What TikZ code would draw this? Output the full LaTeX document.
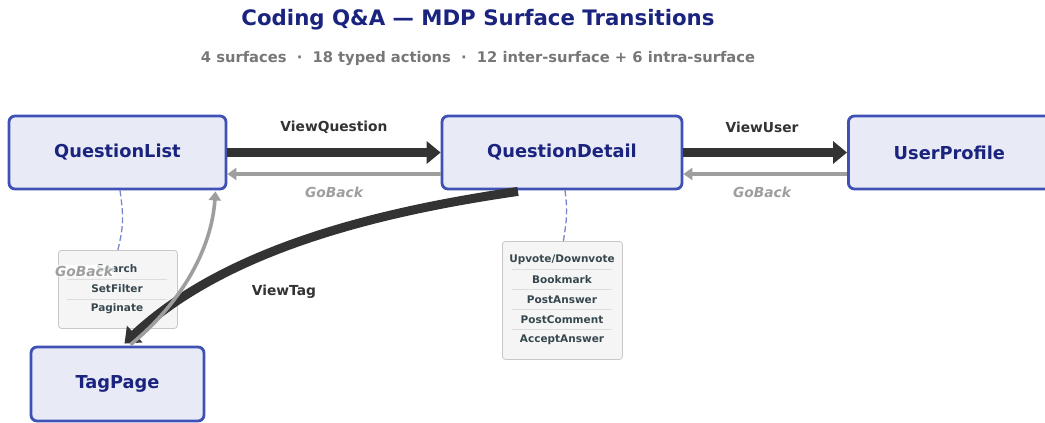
\documentclass[tikz,border=0pt]{standalone}
\usepackage{fontspec}
\setmainfont{DejaVu Sans}
\usetikzlibrary{arrows.meta}
\definecolor{navy}{HTML}{1A237E}
\definecolor{boxfill}{HTML}{E8EAF6}
\definecolor{boxdraw}{HTML}{3F51B5}
\definecolor{dark}{HTML}{333333}
\definecolor{greyarrow}{HTML}{9E9E9E}
\definecolor{subgrey}{HTML}{777777}
\definecolor{notefill}{HTML}{F5F5F5}
\definecolor{notedraw}{HTML}{C8C8C8}
\definecolor{notetext}{HTML}{37474F}
\definecolor{dashcol}{HTML}{7986CB}
\definecolor{seprule}{HTML}{DDDDDD}
\tikzset{
  surface/.style={draw=boxdraw, line width=2.8pt, fill=boxfill, rounded corners=6pt,
    text=navy, font=\bfseries\fontsize{17.8}{21}\selectfont, inner sep=0pt},
  fwd/.style={draw=dark, line width=9pt, -{Triangle[length=14pt,width=22pt]}},
  back/.style={draw=greyarrow, line width=3.6pt, -{Triangle[length=9pt,width=12pt]}},
  fwdlabel/.style={text=dark, font=\bfseries\fontsize{13.8}{16}\selectfont},
  backlabel/.style={text=greyarrow, font=\bfseries\itshape\fontsize{13.8}{16}\selectfont},
  notebox/.style={draw=notedraw, line width=0.8pt, fill=notefill, rounded corners=3pt, inner sep=0pt},
  noteitem/.style={text=notetext, font=\bfseries\fontsize{10.5}{12}\selectfont, inner sep=0pt},
  sepline/.style={draw=seprule, line width=0.7pt},
  notelink/.style={draw=dashcol, line width=1.3pt, dash pattern=on 6pt off 3pt},
}
\begin{document}
\begin{tikzpicture}[x=1pt,y=-1pt]
\useasboundingbox (0,0) rectangle (1045,423);
\fill[white] (0,0) rectangle (1045,423);
% title
\node[text=navy, font=\bfseries\fontsize{21.3}{25}\selectfont] (title) at (478,20) {Coding Q\&A — MDP Surface Transitions};
\node[text=subgrey, font=\bfseries\fontsize{14.7}{17}\selectfont] (sub) at (478,59) {4 surfaces \ ·\ \ 18 typed actions \ ·\ \ 12 inter-surface + 6 intra-surface};
% surfaces
\node[surface, minimum width=217pt, minimum height=73pt] (ql) at (117.5,152.5) {QuestionList};
\node[surface, minimum width=240pt, minimum height=73pt] (qd) at (562,152.5) {QuestionDetail};
\node[surface, minimum width=210pt, minimum height=73pt, anchor=west] (up) at (847,152.5) {\hspace*{-4pt}UserProfile\hspace*{4pt}};
\node[surface, minimum width=173pt, minimum height=74pt] (tp) at (117.5,384) {TagPage};
% notes
\node[notebox, minimum width=119pt, minimum height=78pt, anchor=north west] (n1) at (58,250) {};
\node[noteitem] (n1a) at (117,269) {Search};
\node[noteitem] (n1b) at (117,289) {SetFilter};
\node[noteitem] (n1c) at (117,309) {Paginate};
\draw[sepline] ([xshift=-50pt,yshift=-10pt]n1a.center) -- ([xshift=50pt,yshift=-10pt]n1a.center);
\draw[sepline] ([xshift=-50pt,yshift=-10pt]n1b.center) -- ([xshift=50pt,yshift=-10pt]n1b.center);
\node[notebox, minimum width=120pt, minimum height=118pt, anchor=north west] (n2) at (502,241) {};
\node[noteitem] (n2a) at (562,259.5) {Upvote/Downvote};
\node[noteitem] (n2b) at (562,279.5) {Bookmark};
\node[noteitem] (n2c) at (562,299.5) {PostAnswer};
\node[noteitem] (n2d) at (562,319.5) {PostComment};
\node[noteitem] (n2e) at (562,339.5) {AcceptAnswer};
\foreach \n in {n2a,n2b,n2c,n2d}
  \draw[sepline] ([xshift=-50pt,yshift=-10pt]\n.center) -- ([xshift=50pt,yshift=-10pt]\n.center);
\draw[notelink] ([xshift=2.5pt]ql.south) .. controls ([xshift=6pt,yshift=-25pt]ql.south) and ([xshift=6pt,yshift=25pt]n1.north) .. (n1.north);
\draw[notelink] ([xshift=3pt]qd.south) .. controls ([xshift=6pt,yshift=-22pt]qd.south) and ([xshift=4pt,yshift=20pt]n2.north) .. ([xshift=1pt]n2.north);
% edges
\draw[fwd] (ql.east) -- (qd.west);
\draw[back] ([yshift=-21.5pt]qd.west) -- ([yshift=-21.5pt]ql.east);
\draw[fwd] (qd.east) -- (up.west);
\draw[back] ([yshift=-21.5pt]up.west) -- ([yshift=-21.5pt]qd.east);
\draw[fwd] ([xshift=-44pt,yshift=-1pt]qd.south) .. controls (375,212) and (225,250) .. ([xshift=7pt,yshift=2pt]tp.north);
\draw[back] ([xshift=13pt,yshift=1pt]tp.north) .. controls (185,300) and (212,245) .. ([xshift=-12pt,yshift=-1pt]ql.south east);
% labels
\node[fwdlabel] (lvq) at (334,127) {ViewQuestion};
\node[backlabel] (lgb1) at (334,192) {GoBack};
\node[fwdlabel] (lvu) at (762,127) {ViewUser};
\node[backlabel] (lgb2) at (762,192) {GoBack};
\node[fwdlabel] (lvt) at (284,292) {ViewTag};
\node[backlabel, fill=white, fill opacity=0.8, text opacity=1, inner sep=1pt] (lgb3) at (84,271) {GoBack};
\end{tikzpicture}
\end{document}
